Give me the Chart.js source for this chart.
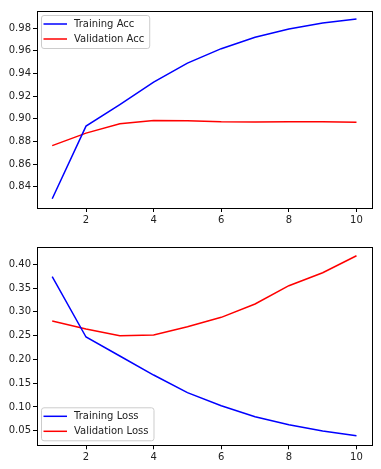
<!DOCTYPE html>
<html>
<head>
<meta charset="utf-8">
<script src="https://cdn.jsdelivr.net/npm/chart.js@4.4.1/dist/chart.umd.min.js"></script>
<style>
  body { margin: 0; background: #fff; }
  .wrap { position: absolute; left: 0; width: 381px; }
</style>
</head>
<body>
<div class="wrap" style="top:0;height:234px"><canvas id="acc_chart"></canvas></div>
<div class="wrap" style="top:234px;height:235px"><canvas id="loss_chart"></canvas></div>
<script>
// epochs and values
const epochs = [1, 2, 3, 4, 5, 6, 7, 8, 9, 10];
const trainAcc = [0.8294, 0.8935, 0.9125, 0.9322, 0.9490, 0.9618, 0.9718, 0.9792, 0.9845, 0.9880];
const valAcc = [0.8762, 0.8873, 0.8955, 0.8985, 0.8983, 0.8972, 0.8971, 0.8974, 0.8973, 0.8968];
const trainLoss = [0.3739, 0.2471, 0.2071, 0.1671, 0.1300, 0.1026, 0.0795, 0.0626, 0.0493, 0.0395];
const valLoss = [0.2807, 0.2639, 0.2498, 0.2515, 0.2687, 0.2885, 0.3165, 0.3550, 0.3823, 0.4181];

const xTicks = [2, 4, 6, 8, 10];
const accTicks = [0.84, 0.86, 0.88, 0.90, 0.92, 0.94, 0.96, 0.98];
const lossTicks = [0.05, 0.10, 0.15, 0.20, 0.25, 0.30, 0.35, 0.40];

const FONT = { family: "'DejaVu Sans', sans-serif", size: 10 };

// box around the plot area + legend inside it
const framePlugin = {
  id: 'frame',
  afterDraw(chart, args, opts) {
    const { ctx, chartArea: a } = chart;
    ctx.save();
    ctx.strokeStyle = '#000';
    ctx.lineWidth = 1;
    ctx.strokeRect(Math.round(a.left) + 0.5, Math.round(a.top) + 0.5,
      Math.round(a.right - a.left), Math.round(a.bottom - a.top));

    // legend
    const sets = chart.data.datasets;
    ctx.font = '10px ' + FONT.family;
    let tw = 0;
    sets.forEach(d => tw = Math.max(tw, ctx.measureText(d.label).width));
    const w = 33 + tw + 5, h = 33;
    const x = a.left + 4;
    const y = opts.where === 'top' ? a.top + 4.3 : a.bottom - 5 - h;
    ctx.fillStyle = 'rgba(255,255,255,0.8)';
    ctx.strokeStyle = '#ccc';
    ctx.beginPath();
    ctx.roundRect(x + 0.5, y + 0.5, w, h, 2.5);
    ctx.fill();
    ctx.stroke();
    sets.forEach((d, i) => {
      const ry = y + 9 + i * 15;
      ctx.strokeStyle = d.borderColor;
      ctx.lineWidth = 1.5;
      ctx.beginPath();
      ctx.moveTo(x + 2.5, ry);
      ctx.lineTo(x + 26, ry);
      ctx.stroke();
      ctx.fillStyle = '#222';
      ctx.textBaseline = 'middle';
      ctx.fillText(d.label, x + 33, ry + 0.5);
    });
    ctx.restore();
  }
};

function makeChart(id, labels, series, yTicks, yMin, yMax, pad, xHeight, where) {
  const datasets = series.map((s, i) => ({
    label: labels[i],
    data: epochs.map((e, k) => ({ x: e, y: s[k] })),
    borderColor: i === 0 ? 'blue' : 'red',
    borderWidth: 1.5,
    pointRadius: 0,
    tension: 0,
    fill: false
  }));
  return new Chart(document.getElementById(id), {
    type: 'line',
    data: { datasets: datasets },
    plugins: [framePlugin],
    options: {
      responsive: true,
      maintainAspectRatio: false,
      animation: false,
      layout: { padding: { top: pad, right: 9.3, left: 0, bottom: 0 } },
      plugins: { legend: { display: false }, tooltip: { enabled: false }, frame: { where: where } },
      scales: {
        x: {
          type: 'linear', min: 0.55, max: 10.45,
          afterBuildTicks: ax => { ax.ticks = xTicks.map(v => ({ value: v })); },
          afterFit: ax => { ax.height = xHeight; },
          grid: { drawOnChartArea: false, drawTicks: true, tickLength: 4, color: '#000' },
          border: { display: false },
          ticks: { font: FONT, color: '#222', padding: 2, maxRotation: 0,
            callback: v => String(v) }
        },
        y: {
          min: yMin, max: yMax,
          afterBuildTicks: ax => { ax.ticks = yTicks.map(v => ({ value: v })); },
          afterFit: ax => { ax.width = 37; },
          grid: { drawOnChartArea: false, drawTicks: true, tickLength: 4, color: '#000' },
          border: { display: false },
          ticks: { font: FONT, color: '#222', padding: 2,
            callback: v => v.toFixed(2) }
        }
      }
    }
  });
}

makeChart('acc_chart', ['Training Acc', 'Validation Acc'], [trainAcc, valAcc],
  accTicks, 0.8212, 0.9953, 10.7, 26, 'top');
makeChart('loss_chart', ['Training Loss', 'Validation Loss'], [trainLoss, valLoss],
  lossTicks, 0.0193, 0.4358, 13.3, 23.7, 'bottom');
</script>
</body>
</html>
